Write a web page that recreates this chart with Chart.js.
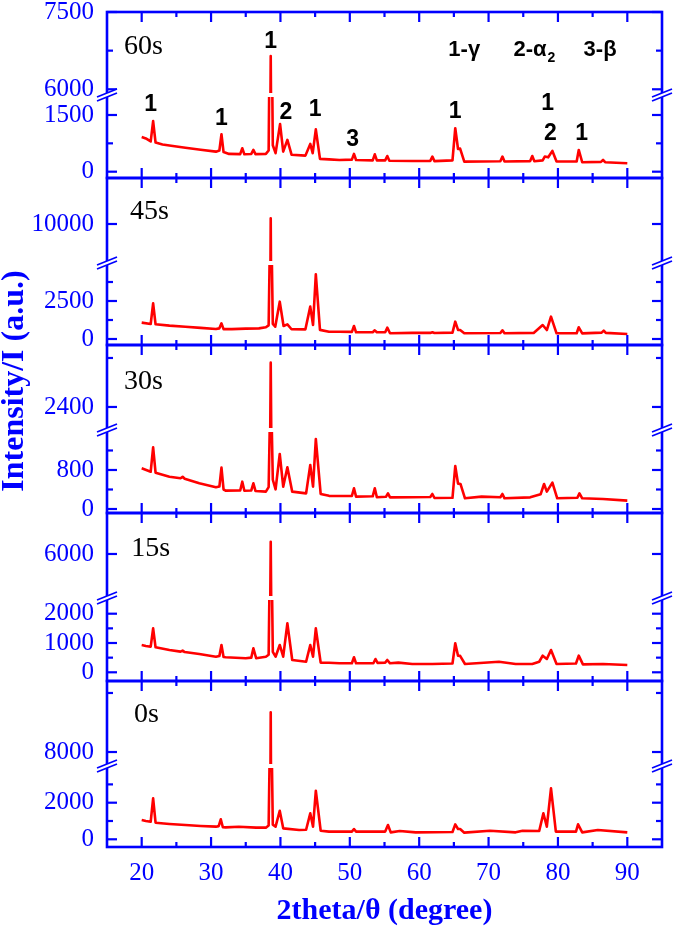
<!DOCTYPE html>
<html><head><meta charset="utf-8">
<script src="https://cdn.jsdelivr.net/npm/chart.js@4.4.1/dist/chart.umd.min.js"></script>
<style>html,body{margin:0;padding:0;background:#fff;}</style>
</head><body>
<canvas id="c" width="675" height="929" style="width:675px;height:929px;display:block"></canvas>
<script>
// ---------- data (2theta, intensity) ----------
const s60 = [[20,920],[20.6,880],[21.3,800],[21.65,1340],[22.0,770],[23,720],[24.5,680],[26.3,635],[28.5,580],[30.7,530],[31.2,560],[31.5,990],[31.8,520],[32.6,470],[34.2,465],[34.5,620],[34.8,460],[35.8,470],[36.1,575],[36.4,465],[37.9,470],[38.3,560],[38.6,6646],[38.9,700],[39.3,490],[39.95,1260],[40.4,530],[41.0,840],[41.6,450],[43.6,425],[44.3,735],[44.65,490],[45.1,1120],[45.7,340],[47.0,325],[48.5,310],[50.3,320],[50.6,470],[50.9,310],[53.3,300],[53.6,460],[53.9,300],[55.1,300],[55.4,415],[55.7,290],[59.0,283],[61.6,285],[61.9,400],[62.2,280],[64.8,300],[65.2,1150],[65.6,600],[65.9,610],[66.5,265],[71.7,275],[72.0,400],[72.3,270],[76.0,280],[76.3,415],[76.6,275],[77.8,300],[78.1,400],[78.6,380],[79.2,550],[79.8,270],[82.7,270],[83.0,575],[83.5,250],[86.2,260],[86.5,310],[86.8,250],[90,222]];
const s45 = [[20,1075],[21.3,985],[21.65,2350],[22.0,965],[24,880],[26.3,810],[28.5,730],[30.7,660],[31.2,700],[31.5,1030],[31.8,650],[33,650],[35,680],[36.9,700],[37.9,770],[38.3,900],[38.6,10143],[38.9,1000],[39.25,810],[39.9,2455],[40.45,855],[41.0,965],[41.6,640],[43.6,636],[44.3,2130],[44.7,920],[45.1,4250],[45.7,600],[47.0,480],[48.5,480],[50.3,470],[50.6,855],[50.9,440],[53.3,450],[53.6,570],[53.9,440],[55.1,440],[55.4,745],[55.8,375],[59,400],[61.6,400],[61.9,440],[62.2,390],[64.8,420],[65.2,1140],[65.6,600],[65.9,590],[66.5,375],[71.7,390],[72.0,570],[72.3,375],[76.5,400],[77.8,920],[78.4,590],[79.0,1470],[79.8,375],[82.7,380],[83.0,770],[83.5,370],[86.3,420],[86.6,550],[86.9,400],[90,330]];
const s30 = [[20,835],[21.3,765],[21.65,1265],[22.0,745],[24.0,663],[25.6,630],[25.9,660],[26.2,620],[28.3,527],[30.7,445],[31.2,460],[31.5,848],[31.8,400],[32.1,376],[34.2,380],[34.5,560],[34.8,375],[35.8,380],[36.1,527],[36.4,370],[37.9,356],[38.3,450],[38.6,2762],[38.9,600],[39.3,403],[39.9,1128],[40.4,458],[41.0,855],[41.7,356],[43.7,321],[44.3,903],[44.7,458],[45.1,1436],[45.8,308],[47,270],[48.5,267],[50.3,270],[50.6,424],[50.9,253],[53.3,260],[53.6,424],[53.9,240],[55.2,250],[55.5,321],[55.8,239],[59,240],[61.6,245],[61.9,308],[62.2,225],[64.8,230],[65.2,882],[65.6,520],[65.95,513],[66.6,219],[69,253],[71.7,240],[72.0,308],[72.3,219],[76,239],[77.5,300],[78.0,513],[78.4,356],[79.2,540],[79.9,219],[82.8,230],[83.1,321],[83.5,219],[86.5,205],[90,171]];
const s15 = [[20,930],[20.6,900],[21.3,875],[21.65,1500],[22.0,853],[24,760],[25.6,705],[25.9,740],[26.2,690],[28.3,625],[30.7,532],[31.2,560],[31.5,930],[31.8,520],[32.1,512],[35,478],[35.8,500],[36.1,820],[36.5,480],[37.9,532],[38.3,600],[38.6,6267],[38.9,700],[39.3,532],[39.9,932],[40.4,532],[41.0,1672],[41.7,420],[43.7,362],[44.3,932],[44.7,532],[45.1,1500],[45.8,328],[47,328],[48.5,307],[50.3,310],[50.6,512],[50.9,307],[53.4,310],[53.7,454],[54.0,320],[55.1,330],[55.4,420],[55.8,307],[57,330],[59,283],[61.9,283],[64.8,300],[65.2,990],[65.6,567],[65.9,560],[66.6,283],[71.5,362],[73.9,283],[76.3,283],[77.3,360],[77.8,567],[78.4,454],[79.0,761],[79.8,283],[82.6,300],[83.0,567],[83.6,272],[86.5,283],[90,249]];
const s0 = [[20,1050],[20.6,1000],[21.3,960],[21.65,2237],[22.0,906],[24,840],[26.3,780],[28.5,730],[30.7,690],[31.1,720],[31.4,1090],[31.7,660],[32.1,653],[34,689],[36.5,640],[37.9,635],[38.3,750],[38.6,8673],[38.9,800],[39.3,689],[39.9,1560],[40.4,598],[42.7,507],[43.7,520],[44.3,1418],[44.7,689],[45.1,2653],[45.8,471],[47,417],[48.5,417],[50.3,420],[50.6,562],[50.9,417],[55.1,420],[55.5,780],[55.9,380],[57.2,453],[59.5,380],[64.8,400],[65.2,816],[65.6,562],[65.9,562],[66.5,362],[70.2,471],[73.9,380],[74.9,471],[77.3,450],[77.9,1418],[78.4,689],[79.0,2782],[79.7,417],[82.6,420],[82.9,816],[83.5,380],[85.75,507],[90,380]];

const panelNames = ['60s','45s','30s','15s','0s'];
const series = [s60, s45, s30, s15, s0];

// broken y axes: lower and upper segment of each panel
const loMin = [-167, -395, -82, -297, -421];
const loMax = [2029, 5000, 1620, 2536, 4005];
const hiMin = [5889, 9025, 2212, 5043, 7763];
const hiMax = [7500, 11150, 2906, 6891, 9203];
const loMajor = [[0,1500],[0,2500],[0,800],[0,1000,2000],[0,2000]];
const loMinor = [[750],[1250,3750],[400,1200],[500,1500],[1000,3000]];
const hiMajor = [[6000,7500],[10000],[2400],[6000],[8000]];
const hiMinor = [[6750],[],[2800],[],[9000]];

const xMajor = [20,30,40,50,60,70,80,90];
const xMinor = [25,35,45,55,65,75,85];

// peak labels in the 60s panel
const peakLabelX = [21.3, 31.5, 38.6, 40.8, 45.0, 50.4, 65.2, 78.5, 78.9, 83.4];
const peakLabelY = [1765, 1394, 6924, 1561, 1632, 839, 1587, 1810, 1016, 1016];
const peakLabelText = ['1','1','1','2','1','3','1','1','2','1'];
const phaseText = ['1-γ', '2-α', '3-β'];
const phaseX = [64.2, 73.6, 83.7];
const phaseY = 6763;
const nameX = [17.45, 18.3, 17.45, 18.5, 18.9];
const nameY = [6821, 10300, 2604, 6109, 8627];

// ---------- layout sizes ----------
const hiWeight = [83, 85, 85, 85, 85];
const loWeight = [83, 82, 83, 83, 81];
const BLUE = '#0000ff';
const RED = '#ff0000';
const SERIF = '"Liberation Serif", "Times New Roman", serif';
const SANS = '"Liberation Sans", Arial, sans-serif';

function yScale(min, max, majors, minors, weight) {
  const all = majors.concat(minors).sort((a, b) => a - b);
  return {
    type: 'linear', position: 'left', stack: 'panels', stackWeight: weight,
    min: min, max: max, bounds: 'data',
    grid: {display: false, drawTicks: false}, border: {display: false},
    ticks: {autoSkip: false, padding: 13, color: BLUE, font: {family: SERIF, size: 25},
            callback: v => majors.includes(v) ? String(v) : ''},
    afterBuildTicks: s => { s.ticks = all.filter(v => v >= min && v <= max).map(v => ({value: v})); },
    afterFit: s => { s.width = 90; s.paddingTop = 0; s.paddingBottom = 0; }
  };
}

const scales = {
  x: {
    type: 'linear', position: 'bottom', min: 15, max: 95, bounds: 'data',
    grid: {display: false, drawTicks: false}, border: {display: false},
    ticks: {autoSkip: false, maxRotation: 0, padding: 11, color: BLUE, font: {family: SERIF, size: 25},
            callback: v => xMajor.includes(v) ? String(v) : ''},
    afterBuildTicks: s => { s.ticks = xMajor.concat(xMinor).sort((a, b) => a - b).map(v => ({value: v})); },
    title: {display: true, text: '2theta/θ (degree)', color: BLUE,
            font: {family: SERIF, size: 30, weight: 'bold'}, padding: {top: 4, bottom: 0}},
    afterFit: s => { s.height = 82; s.paddingLeft = 0; s.paddingRight = 0; }
  }
};
// define from bottom panel to top panel (last defined is placed on top)
for (let p = 4; p >= 0; p--) {
  scales['lo' + p] = yScale(loMin[p], loMax[p], loMajor[p], loMinor[p], loWeight[p]);
  scales['hi' + p] = yScale(hiMin[p], hiMax[p], hiMajor[p], hiMinor[p], hiWeight[p]);
}

const datasets = [];
series.forEach((s, p) => {
  ['hi', 'lo'].forEach(part => {
    datasets.push({data: s, yAxisID: part + p, xAxisID: 'x', borderColor: RED, borderWidth: 2.6,
                   borderJoinStyle: 'round', pointRadius: 0, fill: false, tension: 0, clip: false, part: part});
  });
});

function seg(ctx, x1, y1, x2, y2) { ctx.beginPath(); ctx.moveTo(x1, y1); ctx.lineTo(x2, y2); ctx.stroke(); }

const framePlugin = {
  id: 'frame',
  beforeDatasetDraw(chart, args) {
    const ds = chart.data.datasets[args.index];
    const ys = chart.scales[ds.yAxisID];
    const ca = chart.chartArea, ctx = chart.ctx;
    const top = ds.part === 'lo' ? ys.top + 2 : ys.top;
    const bot = ds.part === 'hi' ? ys.bottom - 2 : ys.bottom;
    ctx.save();
    ctx.beginPath();
    ctx.rect(ca.left, top, ca.right - ca.left, bot - top);
    ctx.clip();
  },
  afterDatasetDraw(chart) { chart.ctx.restore(); },
  afterDraw(chart) {
    const ctx = chart.ctx, ca = chart.chartArea, xs = chart.scales.x;
    ctx.save();
    ctx.strokeStyle = BLUE;
    ctx.lineCap = 'butt';
    for (let p = 0; p < 5; p++) {
      const hi = chart.scales['hi' + p], lo = chart.scales['lo' + p];
      const top = hi.top, bot = lo.bottom;
      ctx.lineWidth = 2.6;
      ctx.strokeRect(ca.left, top, ca.right - ca.left, bot - top);
      ctx.lineWidth = 2.2;
      xs.ticks.forEach(t => {
        const px = xs.getPixelForValue(t.value);
        const len = xMajor.includes(t.value) ? 10 : 5;
        seg(ctx, px, top, px, top + len);
        seg(ctx, px, bot, px, bot - len);
      });
      [[hi, hiMajor[p]], [lo, loMajor[p]]].forEach(([s, majors]) => {
        s.ticks.forEach(t => {
          const py = s.getPixelForValue(t.value);
          const len = majors.includes(t.value) ? 10 : 6;
          seg(ctx, ca.left, py, ca.left + len, py);
          seg(ctx, ca.right, py, ca.right - len, py);
        });
      });
      // axis break marks
      const yb = hi.bottom;
      [ca.left, ca.right].forEach(x0 => {
        ctx.fillStyle = '#ffffff';
        ctx.beginPath();
        ctx.moveTo(x0 - 10, yb + 2); ctx.lineTo(x0 + 10, yb - 6);
        ctx.lineTo(x0 + 10, yb - 2); ctx.lineTo(x0 - 10, yb + 6);
        ctx.closePath(); ctx.fill();
        ctx.lineWidth = 1.8;
        seg(ctx, x0 - 10, yb + 2, x0 + 10, yb - 6);
        seg(ctx, x0 - 10, yb + 6, x0 + 10, yb - 2);
      });
      // sample name
      ctx.fillStyle = '#000';
      ctx.font = '28px ' + SERIF;
      ctx.textAlign = 'left'; ctx.textBaseline = 'middle';
      ctx.fillText(panelNames[p], xs.getPixelForValue(nameX[p]), hi.getPixelForValue(nameY[p]));
    }
    // peak labels in top panel
    const lo0 = chart.scales.lo0, hi0 = chart.scales.hi0;
    ctx.fillStyle = '#000';
    ctx.font = 'bold 23px ' + SANS;
    ctx.textAlign = 'center'; ctx.textBaseline = 'middle';
    peakLabelX.forEach((x, i) => {
      const v = peakLabelY[i];
      const ys = v > loMax[0] ? hi0 : lo0;
      ctx.fillText(peakLabelText[i], xs.getPixelForValue(x), ys.getPixelForValue(v));
    });
    // phase legend
    ctx.textAlign = 'left';
    phaseText.forEach((t, i) => {
      const px = xs.getPixelForValue(phaseX[i]), py = hi0.getPixelForValue(phaseY);
      ctx.font = 'bold 22px ' + SANS;
      ctx.fillText(t, px, py);
      if (i === 1) {
        const w = ctx.measureText(t).width;
        ctx.font = 'bold 14px ' + SANS;
        ctx.fillText('2', px + w + 1, py + 8);
      }
    });
    // y axis title
    ctx.save();
    ctx.translate(15, 381);
    ctx.rotate(-Math.PI / 2);
    ctx.fillStyle = BLUE;
    ctx.font = 'bold 32px ' + SERIF;
    ctx.textAlign = 'center'; ctx.textBaseline = 'middle';
    ctx.fillText('Intensity/I (a.u.)', 0, 0);
    ctx.restore();
    ctx.restore();
  }
};

new Chart(document.getElementById('c'), {
  type: 'line',
  data: {datasets: datasets},
  options: {
    responsive: false, animation: false, devicePixelRatio: 1, events: [],
    layout: {padding: {left: 17, right: 13, top: 12, bottom: 0}},
    plugins: {legend: {display: false}, tooltip: {enabled: false}, title: {display: false}},
    scales: scales
  },
  plugins: [framePlugin]
});
</script>
</body></html>
